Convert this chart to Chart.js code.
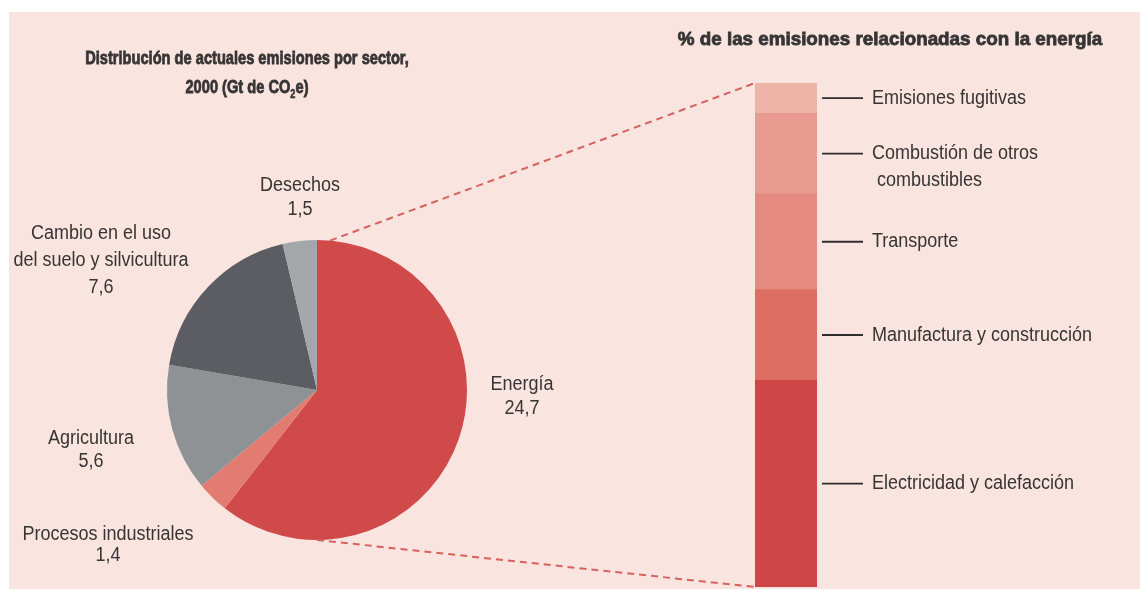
<!DOCTYPE html>
<html>
<head>
<meta charset="utf-8">
<script src="https://cdn.jsdelivr.net/npm/chart.js@4.4.1/dist/chart.umd.min.js"></script>
<style>
  html, body { margin: 0; padding: 0; background: #fff; }
  #wrap { position: relative; width: 1140px; height: 591px; overflow: hidden; }
  #bg { position: absolute; left: 9px; top: 12px; width: 1131px; height: 577px; background: #f9e4df; }
  canvas { position: absolute; left: 0; top: 0; }
</style>
</head>
<body>
<div id="wrap">
  <div id="bg"></div>
  <canvas id="pieChart" width="1140" height="591"></canvas>
  <canvas id="barChart" width="1140" height="591"></canvas>
</div>
<script>
// emissions by sector, 2000 (Gt CO2e), clockwise from 12 o'clock
const sectors = ['Energía', 'Procesos industriales', 'Agricultura', 'Cambio en el uso del suelo y silvicultura', 'Desechos'];
const emissions = [24.7, 1.4, 5.6, 7.6, 1.5];
const sectorColors = ['#cf4a49', '#e27c70', '#8f9295', '#5c5d62', '#a4a7a9'];

// % of energy-related emissions, top to bottom
const energyUses = ['Emisiones fugitivas', 'Combustión de otros combustibles', 'Transporte', 'Manufactura y construcción', 'Electricidad y calefacción'];
const energyShares = [6, 16, 19, 18, 41];
const energyColors = ['#efb4a8', '#e99b91', '#e58a80', '#de6e62', '#cf4647'];

// label text lines and where they sit
const sectorLabelLines = [['Energía'], ['Procesos industriales'], ['Agricultura'], ['Cambio en el uso', 'del suelo y silvicultura'], ['Desechos']];
const sectorLabelPos = [[522, 384, 24], [108, 534, 21], [91, 438, 23], [101, 233, 27], [300, 185, 24]];
const energyLabelLines = [['Emisiones fugitivas'], ['Combustión de otros', ' combustibles'], ['Transporte'], ['Manufactura y construcción'], ['Electricidad y calefacción']];

const TEXT = '#363434';
const LABEL_FONT = '20px "Liberation Sans", Arial, sans-serif';
const NARROW = 0.9;

function drawText(ctx, str, x, y, font, sx, align, stroke) {
  ctx.save();
  ctx.font = font;
  ctx.fillStyle = TEXT;
  ctx.textBaseline = 'middle';
  ctx.textAlign = align || 'center';
  ctx.translate(x, y);
  ctx.scale(sx, 1);
  ctx.fillText(str, 0, 0);
  if (stroke) {
    ctx.strokeStyle = TEXT;
    ctx.lineWidth = stroke;
    ctx.strokeText(str, 0, 0);
  }
  ctx.restore();
}

const fmt = v => v.toFixed(1).replace('.', ',');

const pieLabels = {
  id: 'pieLabels',
  afterDraw(chart) {
    const ctx = chart.ctx;
    sectorLabelLines.forEach((lines, i) => {
      const [x, y, gap] = sectorLabelPos[i];
      lines.forEach((t, k) => drawText(ctx, t, x, y + k * gap, LABEL_FONT, NARROW));
      drawText(ctx, fmt(emissions[i]), x, y + lines.length * gap, LABEL_FONT, NARROW);
    });

    // left title, with subscript 2
    const tf = 'bold 19px "Liberation Sans", Arial, sans-serif';
    const sf = 'bold 12px "Liberation Sans", Arial, sans-serif';
    const ts = 0.77;
    drawText(ctx, 'Distribución de actuales emisiones por sector,', 247, 59, tf, ts, 'center', 0.8);
    ctx.save();
    ctx.font = tf;
    const a = '2000 (Gt de CO', b = 'e)';
    const wa = ctx.measureText(a).width * ts;
    const wb = ctx.measureText(b).width * ts;
    ctx.font = sf;
    const ws = ctx.measureText('2').width * ts;
    ctx.restore();
    const x0 = 247 - (wa + ws + wb) / 2;
    drawText(ctx, a, x0, 88, tf, ts, 'left', 0.8);
    drawText(ctx, '2', x0 + wa, 95, sf, ts, 'left', 0.5);
    drawText(ctx, b, x0 + wa + ws, 88, tf, ts, 'left', 0.8);
  }
};

const pieChart = new Chart(document.getElementById('pieChart'), {
  type: 'pie',
  data: {
    labels: sectors,
    datasets: [{ data: emissions, backgroundColor: sectorColors, borderWidth: 0 }]
  },
  options: {
    responsive: false,
    animation: false,
    layout: { padding: { left: 167, right: 673, top: 240, bottom: 51 } },
    plugins: { legend: { display: false }, tooltip: { enabled: false } }
  },
  plugins: [pieLabels]
});

const barDecor = {
  id: 'barDecor',
  afterDraw(chart) {
    const ctx = chart.ctx;
    const n = energyUses.length;
    // dataset index d corresponds to energyUses[n-1-d]
    const topBar = chart.getDatasetMeta(n - 1).data[0];
    const botBar = chart.getDatasetMeta(0).data[0];
    const left = topBar.x - topBar.width / 2;
    const right = topBar.x + topBar.width / 2;

    // dashed connectors from the pie's Energía slice
    const arc = pieChart.getDatasetMeta(0).data[0];
    const r = arc.outerRadius;
    const a0 = 5 * Math.PI / 180;
    ctx.save();
    ctx.strokeStyle = '#d4625f';
    ctx.lineWidth = 2;
    ctx.setLineDash([7, 5]);
    ctx.beginPath();
    ctx.moveTo(arc.x + r * Math.sin(a0), arc.y - r * Math.cos(a0));
    ctx.lineTo(left, topBar.y);
    ctx.moveTo(arc.x, arc.y + r);
    ctx.lineTo(left, botBar.base);
    ctx.stroke();
    ctx.restore();

    // leader lines and labels
    energyUses.forEach((name, i) => {
      const el = chart.getDatasetMeta(n - 1 - i).data[0];
      const yc = (el.y + el.base) / 2;
      ctx.save();
      ctx.strokeStyle = '#2f2d2d';
      ctx.lineWidth = 1.8;
      ctx.beginPath();
      ctx.moveTo(right + 5, yc);
      ctx.lineTo(right + 46, yc);
      ctx.stroke();
      ctx.restore();
      energyLabelLines[i].forEach((t, k) => drawText(ctx, t, right + 55, yc + k * 27, LABEL_FONT, NARROW, 'left'));
    });

    drawText(ctx, '% de las emisiones relacionadas con la energía', 890, 40,
      'bold 19px "Liberation Sans", Arial, sans-serif', 0.99, 'center', 0.8);
  }
};

new Chart(document.getElementById('barChart'), {
  type: 'bar',
  data: {
    labels: ['Energía'],
    datasets: energyUses.map((u, i) => ({
      label: u,
      data: [energyShares[i]],
      backgroundColor: energyColors[i],
      borderWidth: 0
    })).reverse()
  },
  options: {
    responsive: false,
    animation: false,
    layout: { padding: { left: 755, right: 323, top: 83, bottom: 4 } },
    datasets: { bar: { barPercentage: 1, categoryPercentage: 1 } },
    scales: {
      x: { stacked: true, display: false },
      y: { stacked: true, display: false, min: 0, max: 100 }
    },
    plugins: { legend: { display: false }, tooltip: { enabled: false } }
  },
  plugins: [barDecor]
});
</script>
</body>
</html>
